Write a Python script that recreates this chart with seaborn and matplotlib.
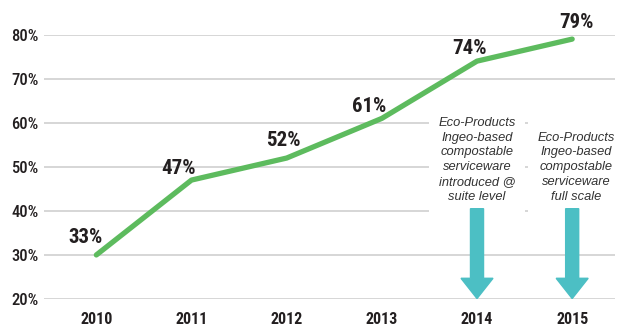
import matplotlib
matplotlib.use("Agg")
import matplotlib.pyplot as plt
import seaborn as sns
import pandas as pd

# datos
anios = [2010, 2011, 2012, 2013, 2014, 2015]
valores = [30, 47, 52, 61, 74, 79]          # posicion de la linea (%)
etiquetas = ["33%", "47%", "52%", "61%", "74%", "79%"]
yticks = [20, 30, 40, 50, 60, 70, 80]
notas = {
    2014: "Eco-Products\nIngeo-based\ncompostable\nserviceware\nintroduced @\nsuite level",
    2015: "Eco-Products\nIngeo-based\ncompostable\nserviceware\nfull scale",
}

df = pd.DataFrame({"anio": anios, "valor": valores})

sns.set_theme(style="white")
plt.rcParams["font.family"] = ["Roboto Condensed", "DejaVu Sans"]

VERDE = "#5DBB5E"
TEAL = "#4CBFC4"
TEXTO = "#231F20"

fig = plt.figure(figsize=(6.25, 3.26), dpi=100)
ax = fig.add_axes([44 / 625, 27 / 326, 571 / 625, 264.3 / 326])

for y in yticks:
    ax.axhline(y, color="#CCCCCC", linewidth=1.1, zorder=0)

sns.lineplot(data=df, x="anio", y="valor", ax=ax, color=VERDE,
             linewidth=3.8, zorder=3, clip_on=False)

# desplazamientos de las etiquetas (px)
offs = [(-11, 17), (-13, 12), (-3, 18), (-13, 12), (-8, 13), (4, 17)]
for x, y, t, (dx, dy) in zip(anios, valores, etiquetas, offs):
    ax.annotate(t, (x, y), xytext=(dx, dy), textcoords="offset pixels",
                ha="center", va="center", fontsize=15, fontweight="bold",
                color=TEXTO, zorder=5, annotation_clip=False)

# notas y flechas
for x, txt in notas.items():
    ax.text(x + (0.0 if x == 2014 else 0.04), 41.9, txt, ha="center", va="bottom",
            fontsize=9.3, style="italic", family=["Liberation Sans", "DejaVu Sans"],
            color="#333333", linespacing=1.3, zorder=4,
            bbox=dict(facecolor="white", edgecolor="none", pad=7))
    ax.arrow(x, 40.5, 0, -20.4, width=0.137, head_width=0.336,
             head_length=4.6, length_includes_head=True,
             color=TEAL, zorder=6, clip_on=False)

ax.set_xlim(2009.45, 2015.45)
ax.set_ylim(20, 80)
ax.set_xticks(anios)
ax.set_xticklabels([str(a) for a in anios], fontsize=11.5, fontweight="bold", color=TEXTO)
ax.set_yticks(yticks)
ax.set_yticklabels([f"{v}%" for v in yticks], fontsize=12, fontweight="medium", color=TEXTO)
ax.tick_params(axis="both", length=0)
ax.tick_params(axis="x", pad=9)
ax.tick_params(axis="y", pad=4)
ax.set_xlabel("")
ax.set_ylabel("")
sns.despine(ax=ax, left=True, bottom=True)

fig.savefig("out.png", dpi=100, facecolor="white")
